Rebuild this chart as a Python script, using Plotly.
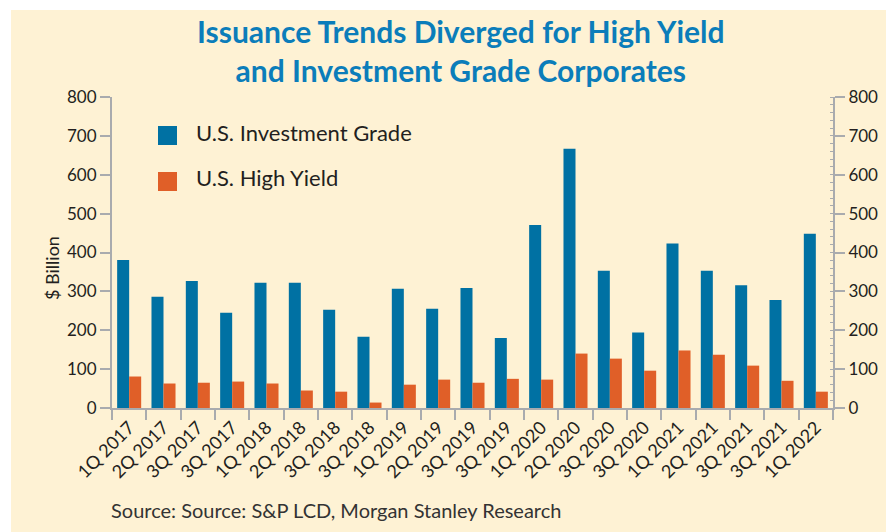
import plotly.graph_objects as go

quarters = ["1Q 2017", "2Q 2017", "3Q 2017", "3Q 2017", "1Q 2018", "2Q 2018", "3Q 2018", "3Q 2018",
            "1Q 2019", "2Q 2019", "3Q 2019", "3Q 2019", "1Q 2020", "2Q 2020", "3Q 2020", "3Q 2020",
            "1Q 2021", "2Q 2021", "3Q 2021", "3Q 2021", "1Q 2022"]
investment_grade = [381, 286, 327, 245, 322, 322, 253, 183, 307, 255, 309, 180,
                    471, 667, 353, 194, 423, 353, 316, 278, 448]
high_yield = [81, 63, 65, 68, 63, 45, 42, 14, 60, 73, 65, 75,
              73, 140, 127, 96, 148, 137, 109, 70, 42]
y_ticks = [0, 100, 200, 300, 400, 500, 600, 700, 800]

# page has an 8px body margin; figure sized to fit the window
OFF = 8
W, H = 894 - OFF, 532 - OFF
L, R, T, B = 112, 833, 97, 408  # plot area in window pixels

def px_x(px):
    return (px - L) / (R - L)

def px_y(py):
    return (B - py) / (B - T)

BLUE = "#0071a3"
ORANGE = "#e05f28"
GRAY = "#a9abae"
TXT = "#231f20"
CREAM = "#fef2d4"
FONT = "Lato"

x = list(range(len(quarters)))

fig = go.Figure()
fig.add_trace(go.Bar(x=x, y=investment_grade, name="U.S. Investment Grade",
                     marker=dict(color=BLUE, line=dict(width=0))))
fig.add_trace(go.Bar(x=x, y=high_yield, name="U.S. High Yield",
                     marker=dict(color=ORANGE, line=dict(width=0))))
fig.add_trace(go.Scatter(x=[0], y=[None], yaxis="y2", showlegend=False, hoverinfo="skip"))

ytick_font = dict(family=FONT, size=17, color=TXT)
xtick_font = dict(family=FONT, size=18, color=TXT)

fig.update_layout(
    width=W, height=H, autosize=False,
    margin=dict(l=L - OFF, r=W - (R - OFF), t=T - OFF, b=H - (B - OFF), pad=0),
    paper_bgcolor="white",
    plot_bgcolor="rgba(0,0,0,0)",
    barmode="group", bargap=0.3, bargroupgap=0,
    showlegend=False,
    xaxis=dict(
        range=[-0.5, len(quarters) - 0.5],
        tickvals=x, ticktext=quarters, tickangle=-45,
        ticks="", tickfont=xtick_font,
        showgrid=False, zeroline=False,
        showline=True, linecolor=GRAY, linewidth=2,
        minor=dict(tickvals=[i - 0.5 for i in range(len(quarters) + 1)],
                   ticks="outside", ticklen=10, tickwidth=2, tickcolor=GRAY, showgrid=False),
    ),
    yaxis=dict(
        range=[0, 800], tickvals=y_ticks, ticks="outside", ticklen=10, tickwidth=2,
        tickcolor=GRAY, tickfont=ytick_font, showgrid=False, zeroline=False,
        showline=True, linecolor=GRAY, linewidth=2,
    ),
    yaxis2=dict(
        range=[0, 800], tickvals=y_ticks, overlaying="y", side="right",
        ticks="outside", ticklen=10, tickwidth=2, tickcolor=GRAY, tickfont=ytick_font,
        showgrid=False, zeroline=False, showline=True, linecolor=GRAY, linewidth=2,
        minor=dict(dtick=20, ticks="inside", ticklen=3, tickwidth=1, tickcolor=GRAY, showgrid=False),
    ),
)

shapes = [
    dict(type="rect", xref="paper", yref="paper", layer="below",
         x0=px_x(11), x1=px_x(W + 20), y0=px_y(10), y1=px_y(H + 20),
         fillcolor=CREAM, line=dict(width=0)),
    dict(type="rect", xref="paper", yref="paper",
         x0=px_x(158), x1=px_x(177), y0=px_y(126), y1=px_y(145),
         fillcolor=BLUE, line=dict(width=0)),
    dict(type="rect", xref="paper", yref="paper",
         x0=px_x(158), x1=px_x(177), y0=px_y(172), y1=px_y(191),
         fillcolor=ORANGE, line=dict(width=0)),
]
fig.update_layout(shapes=shapes)

annotations = [
    dict(text="Issuance Trends Diverged for High Yield<br>and Investment Grade Corporates",
         xref="paper", yref="paper", x=px_x(461), y=px_y(51), xanchor="center", yanchor="middle",
         showarrow=False, align="center",
         font=dict(family=FONT, size=30, color="#0b7dba", weight="bold")),
    dict(text="U.S. Investment Grade", xref="paper", yref="paper",
         x=px_x(194), y=px_y(133), xanchor="left", yanchor="middle", showarrow=False,
         font=dict(family=FONT, size=22, color=TXT)),
    dict(text="U.S. High Yield", xref="paper", yref="paper",
         x=px_x(194), y=px_y(177), xanchor="left", yanchor="middle", showarrow=False,
         font=dict(family=FONT, size=22, color=TXT)),
    dict(text="$ Billion", xref="paper", yref="paper", textangle=-90,
         x=px_x(52), y=px_y(268), xanchor="center", yanchor="middle", showarrow=False,
         font=dict(family=FONT, size=18, color=TXT)),
    dict(text="Source: Source: S&P LCD, Morgan Stanley Research", xref="paper", yref="paper",
         x=px_x(109), y=px_y(510), xanchor="left", yanchor="middle", showarrow=False,
         font=dict(family=FONT, size=20, color="#333333")),
]
fig.update_layout(annotations=annotations)

fig.write_html("out.html")
